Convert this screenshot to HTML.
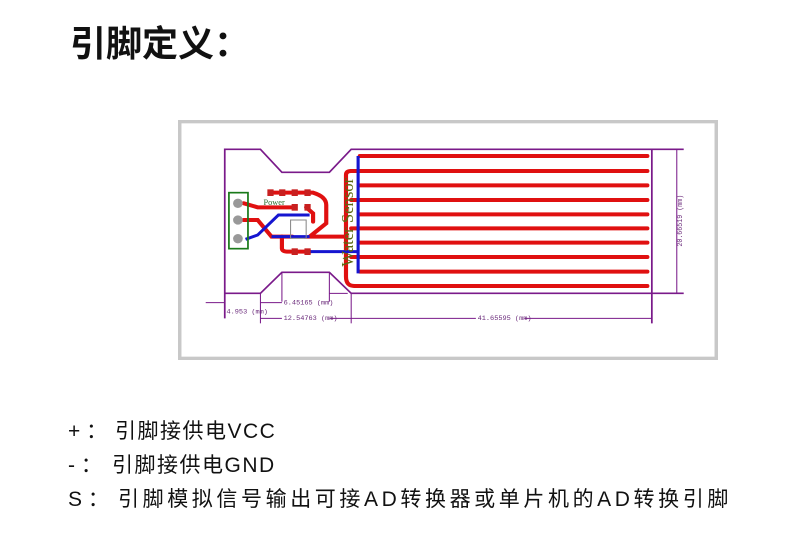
<!DOCTYPE html>
<html><head><meta charset="utf-8"><style>
html,body{margin:0;padding:0;background:#fff;width:790px;height:554px;overflow:hidden;position:relative}
.t{position:absolute;font-family:"Liberation Sans","Noto Sans CJK SC",sans-serif;color:#111;white-space:nowrap}
</style></head><body>
<div class="t" style="left:70px;top:22px;font-size:36px;font-weight:bold;line-height:44px">引脚定义：</div>
<svg style="position:absolute;left:178px;top:120px" width="540" height="240" viewBox="0 0 1559 720" preserveAspectRatio="none">
<rect x="5" y="5" width="1549" height="710" fill="#fff" stroke="#c8c8c8" stroke-width="10"/>
<g fill="none" stroke="#7a1a8a" stroke-width="5">
<polyline points="135,595 135,88 238,88 300,157 437,157 500,88 1460,88"/>
<polyline points="135,520 238,520 300,457 437,457 500,520 1460,520"/>
<line x1="1368" y1="88" x2="1368" y2="610"/>
<line x1="1440" y1="88" x2="1440" y2="520" stroke-width="3"/>
<line x1="238" y1="520" x2="238" y2="610" stroke-width="3"/>
<line x1="500" y1="520" x2="500" y2="610" stroke-width="3"/>
<line x1="300" y1="457" x2="300" y2="545" stroke-width="3"/>
<line x1="437" y1="457" x2="437" y2="545" stroke-width="3"/>
<line x1="80" y1="548" x2="135" y2="548" stroke-width="3"/>
<line x1="238" y1="548" x2="300" y2="548" stroke-width="3"/>
<line x1="437" y1="520" x2="490" y2="520" stroke-width="3"/>
<line x1="238" y1="595" x2="300" y2="595" stroke-width="3"/>
<line x1="437" y1="595" x2="500" y2="595" stroke-width="3"/>
<line x1="500" y1="595" x2="860" y2="595" stroke-width="3"/>
<line x1="1000" y1="595" x2="1368" y2="595" stroke-width="3"/>
</g>
<g font-family="Liberation Mono,monospace" font-size="20" fill="#6a2a7a">
<text x="140" y="580">4.953 (mm)</text>
<text x="305" y="553">6.45165 (mm)</text>
<text x="305" y="600">12.54763 (mm)</text>
<text x="865" y="600">41.65595 (mm)</text>
<text transform="translate(1455,380) rotate(-90)">20.66519 (mm)</text>
</g>
<g stroke="#e01010" stroke-width="12" stroke-linecap="round" fill="none">
<line x1="525" y1="108" x2="1355" y2="108"/><line x1="500" y1="153" x2="1355" y2="153"/>
<line x1="525" y1="196" x2="1355" y2="196"/><line x1="500" y1="240" x2="1355" y2="240"/>
<line x1="525" y1="283" x2="1355" y2="283"/><line x1="500" y1="325" x2="1355" y2="325"/>
<line x1="525" y1="368" x2="1355" y2="368"/><line x1="500" y1="411" x2="1355" y2="411"/>
<line x1="525" y1="455" x2="1355" y2="455"/><line x1="510" y1="498" x2="1355" y2="498"/>
<path d="M510,498 Q485,498 485,470 L485,165 Q485,153 500,153"/>
<path d="M190,250 L230,262 L330,262"/>
<path d="M265,218 L390,218 Q428,230 428,255 L428,310 L380,350 L485,350"/>
<path d="M190,300 L230,300 L270,350 L330,350"/>
<path d="M300,350 L300,385 Q300,395 320,395 L380,395"/>
<path d="M370,262 L390,280 L390,305"/>
</g>
<g stroke="#1515d0" stroke-width="9" fill="none">
<line x1="520" y1="108" x2="520" y2="460"/>
<path d="M195,358 L230,345 L290,285 L380,285"/>
<path d="M270,350 L380,350"/>
<path d="M380,395 L520,395"/>
</g>
<g fill="#c82020"><rect x="258" y="208" width="18" height="20"/><rect x="292" y="208" width="18" height="20"/><rect x="328" y="208" width="18" height="20"/><rect x="365" y="208" width="18" height="20"/>
<rect x="328" y="252" width="18" height="20"/><rect x="365" y="252" width="18" height="20"/>
<rect x="328" y="385" width="18" height="20"/><rect x="365" y="385" width="18" height="20"/></g>
<rect x="325" y="300" width="45" height="55" fill="none" stroke="#888" stroke-width="3"/>
<rect x="147" y="218" width="55" height="168" fill="none" stroke="#1a7a1a" stroke-width="5"/>
<g fill="#999"><circle cx="173" cy="250" r="14"/><circle cx="173" cy="300" r="14"/><circle cx="173" cy="356" r="14"/></g>
<text x="247" y="255" font-family="Liberation Serif,serif" font-size="24" fill="#2a6a2a">Power</text>
<text transform="translate(505,440) rotate(-90)" font-family="Liberation Serif,serif" font-size="50" fill="#5a6a10">Water Sensor</text>
</svg>
<div class="t" style="left:68px;top:418px;font-size:21px;line-height:28px">+ ：</div>
<div class="t" style="left:115px;top:418px;font-size:21px;line-height:28px;letter-spacing:1.5px">引脚接供电VCC</div>
<div class="t" style="left:68px;top:452px;font-size:21px;line-height:28px">- ：</div>
<div class="t" style="left:112px;top:452px;font-size:21px;line-height:28px;letter-spacing:1.5px">引脚接供电GND</div>
<div class="t" style="left:68px;top:486px;font-size:21px;line-height:28px">S ：</div>
<div class="t" style="left:118px;top:486px;font-size:21px;line-height:28px;letter-spacing:3.6px">引脚模拟信号输出可接AD转换器或单片机的AD转换引脚</div>
</body></html>
